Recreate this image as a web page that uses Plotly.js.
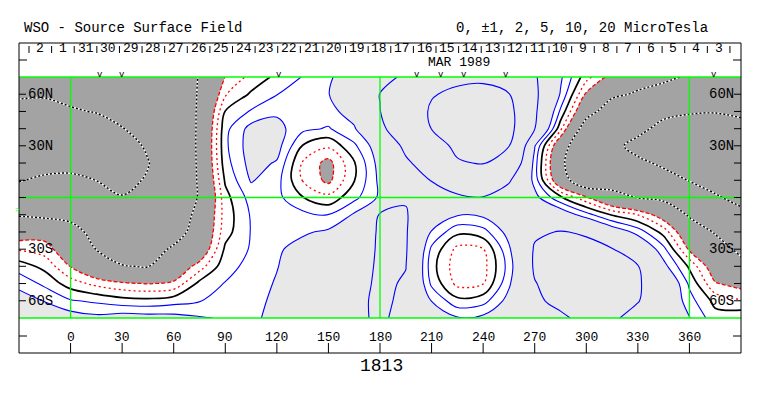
<!DOCTYPE html>
<html><head><meta charset="utf-8">
<script src="https://cdn.plot.ly/plotly-3.0.1.min.js"></script>
<style>html,body{margin:0;padding:0;background:#fff;}#chart{width:763px;height:396px;}</style>
</head><body><div id="chart"></div>
<script>
// ---- data grid: Carrington longitude columns, sine-latitude rows (top -> bottom) ----
const lonGrid = [-30,-15,0,15,30,45,60,75,90,105,120,135,150,165,180,195,210,225,240,255,270,285,300,315,330,345,360,375,390];
const sinLatTopDown = [1,0.857,0.714,0.571,0.429,0.286,0.143,0,-0.143,-0.286,-0.429,-0.571,-0.714,-0.857,-1];

const col_m30 = [-8.5,-9.6,-11,-12,-12.3,-11.8,-10.2,-7.8,-5.2,-2.9,-1.1,0.5,1.7,2.5,2.9];
const col_m15 = [-8.8,-9.6,-11.3,-12.8,-13,-11.5,-9.3,-7.5,-5.6,-2.6,-1.5,-0.3,0.75,1.95,2.7];
const col_0   = [-8.5,-9.5,-10.2,-12,-12.5,-11.5,-9,-7,-5.7,-4.1,-3,-2.05,-0.5,1.1,2.6];
const col_15  = [-8,-8.8,-9.9,-11,-12,-11.5,-10.05,-8,-6.6,-5.8,-5.05,-3.6,-1.3,0.8,2.3];
const col_30  = [-7.5,-8.2,-9,-10.1,-11,-11,-10.6,-9.9,-8,-6.8,-6,-4.9,-1.8,0.4,2.6];
const col_45  = [-7,-7.5,-8.2,-9,-9.7,-10.1,-9.8,-9,-8,-7,-6.2,-5.1,-2.05,0.3,2.5];
const col_60  = [-6.3,-6.7,-7,-7.5,-8,-8.3,-8.3,-8,-7.3,-6.2,-4.6,-3.2,-1.8,0.6,2.4];
const col_75  = [-4.9,-4.8,-4.7,-4.6,-4.5,-4.5,-4.6,-4.7,-4.0,-3.8,-3.3,-1.5,0.3,0.95,2.1];
const col_90  = [-1.95,-1.1,0.05,0.7,0.8,0.6,0.15,-0.35,-0.55,-0.4,0.2,0.65,1.05,1.4,1.9];
const col_105 = [-0.7,0.15,1.1,2.4,2.55,2.4,2.1,1.4,1.1,1.05,1.1,1.3,1.5,1.7,1.9];
const col_120 = [0.25,0.97,1.8,2.4,2.45,1.9,1.4,1.3,1.5,1.65,1.85,1.95,2.1,2.2,2.15];
const col_135 = [1.05,1.5,1.5,1.25,-0.05,-1.1,-1.05,0.03,1.3,1.85,2.4,2.7,2.9,3.0,3.0];
const col_150 = [1.8,1.95,1.6,0.9,-0.8,-2.4,-2.3,-0.7,0.95,2.2,2.8,3.2,3.5,3.7,3.8];
const col_165 = [2.9,3.4,2.6,1.85,0.8,-0.1,-0.05,0.7,2.15,2.8,3.3,3.8,4.2,4.5,4.6];
const col_180 = [4.0,5.05,4.95,4.4,2.8,2.5,2.3,2.2,5.2,5.4,5.4,5.4,5.4,5.4,5.3];
const col_195 = [5.5,7.35,7.7,6.9,5.6,4.6,3.8,4.8,5.2,5.2,5.2,5.05,4.8,4.6,4.4];
const col_210 = [8,9.8,10.4,10.05,8.5,6.3,5.1,3.3,2.8,1.92,0.77,0.38,0.78,1.96,2.8];
const col_225 = [9.3,10.6,11.3,11.4,10.7,9.7,6.6,4.6,2.1,0.25,-1.3,-1.6,-1.3,0.3,2.1];
const col_240 = [9.5,10.8,11.5,11.5,11.0,10.2,7.0,4.9,2.25,0.6,-1.05,-1.4,-1.05,0.6,2.3];
const col_255 = [8.8,10.1,11.2,11.3,10.1,8.2,5.3,3.6,3.0,2.45,1.8,1.4,1.8,2.45,3.0];
const col_270 = [5.3,5.5,5.4,5.05,2.1,1.5,1.6,2.4,3.5,4.7,5.2,5.3,4.9,4.4,4.0];
const col_285 = [2.2,1.9,0.8,-0.7,-3.5,-4.3,-3.5,0.2,3.0,5.1,5.6,5.9,6.0,5.9,4.4];
const col_300 = [-0.6,-2.2,-3.9,-6.5,-8,-8.5,-7.5,-1.8,1.4,4.8,5.5,6.0,6.2,6.2,6.0];
const col_315 = [-2.5,-4.5,-6.5,-8.5,-9.3,-9.0,-6.5,-3.9,-0.1,3.0,5.1,5.6,5.8,5.7,5.3];
const col_330 = [-4.0,-5.3,-7.5,-9.3,-10.8,-9.5,-7.8,-5.1,-1.02,1.6,3.6,5.1,5.2,5.1,4.3];
const col_345 = [-4.5,-6.0,-9.3,-10.8,-11.5,-10.4,-9.1,-5.6,-2.8,-0.4,1.3,2.4,3.8,3.6,3.2];
const col_360 = [-5.3,-7,-9.7,-11.5,-12,-11.5,-10.1,-7.8,-5.3,-3.5,-2.2,-0.2,0.8,1.4,2.05];
const col_375 = [-6,-7.5,-9.8,-12,-12.5,-12,-11,-9.7,-7.3,-5.2,-3.8,-3.0,-1.9,-0.3,0.4];
const col_390 = [-6.5,-8,-9.4,-11,-12,-12,-11.5,-10.8,-9.3,-7,-5.6,-4.2,-2.5,-0.9,0.75];

const columns = [col_m30,col_m15,col_0,col_15,col_30,col_45,col_60,col_75,col_90,col_105,col_120,col_135,col_150,col_165,col_180,col_195,col_210,col_225,col_240,col_255,col_270,col_285,col_300,col_315,col_330,col_345,col_360,col_375,col_390];

// contour levels (microTesla)
const lineLevels = [-10,-5,-2,-1,0,1,2,5,10];

// labels
const titleLeft = 'WSO - Source Surface Field';
const titleRight = '0, \u00b11, 2, 5, 10, 20 MicroTesla';
const monthLabel = 'MAR 1989';
const rotationLabel = '1813';
const dayLabels = ['2','1','31','30','29','28','27','26','25','24','23','22','21','20','19','18','17','16','15','14','13','12','11','10','9','8','7','6','5','4','3'];
const dayStartLon = -17.6, dayStepLon = 13.153;
const vMarkLon = [17.3,30,121.3,201.5,215.4,228.8,253.3,374.1];
const lonTicks = [0,30,60,90,120,150,180,210,240,270,300,330,360];
const latTickS = [0.857,0.429,-0.429,-0.857];
const latTickLabels = ['60N','30N','30S','60S'];
const minorLatS = [0.857,0.714,0.571,0.429,0.286,0.143,0,-0.143,-0.286,-0.429,-0.571,-0.714,-0.857];
const gridLon = [0,180,360];

// ---- build z (rows ascending in y) ----
const yAsc = sinLatTopDown.slice().reverse();
const zRows = yAsc.map((s, j) => columns.map(c => c[c.length - 1 - j]));

const FONT = 'Liberation Mono, DejaVu Sans Mono, monospace';
const L = 19, R = 741, T = 77, B = 318;
const px = x => (x - L) / (R - L);
const py = y => (B - y) / (B - T);

const traces = [];
traces.push({
  type: 'contour', x: lonGrid, y: yAsc, z: zRows, autocontour: false,
  contours: {coloring: 'fill', start: -2, end: 2, size: 4, showlines: false},
  colorscale: [[0,'#a3a3a3'],[0.25,'#a3a3a3'],[0.25,'#ffffff'],[0.75,'#ffffff'],[0.75,'#e8e8e8'],[1,'#e8e8e8']],
  showscale: false, line: {smoothing: 1, width: 0}, hoverinfo: 'skip'
});
function lineTrace(level, color, width, dash) {
  return {
    type: 'contour', x: lonGrid, y: yAsc, z: zRows, autocontour: false,
    contours: {coloring: 'none', start: level, end: level, size: 1},
    line: {color: color, width: width, dash: dash || 'solid', smoothing: 1},
    showscale: false, hoverinfo: 'skip'
  };
}
lineLevels.forEach(lv => {
  if (lv <= -5) {
    traces.push(lineTrace(lv, '#ffffff', 1.4));
    traces.push(lineTrace(lv, '#000000', 1.4, '2px,2px'));
  } else if (lv === -2) {
    traces.push(lineTrace(lv, '#ff0000', 1.3, '4px,2px'));
  } else if (lv === -1) {
    traces.push(lineTrace(lv, '#ff0000', 1.3, '2px,3px'));
  } else if (lv === 0) {
    traces.push(lineTrace(lv, '#000000', 1.7));
  } else {
    traces.push(lineTrace(lv, '#0000ff', 1.1));
  }
});

const shapes = [];
const green = '#00ff00';
shapes.push({type:'line', xref:'paper', yref:'paper', x0:0, x1:1, y0:1, y1:1, line:{color:green, width:1.3}});
shapes.push({type:'line', xref:'paper', yref:'paper', x0:0, x1:1, y0:0, y1:0, line:{color:green, width:1.3}});
shapes.push({type:'line', xref:'paper', yref:'y', x0:0, x1:1, y0:0, y1:0, line:{color:green, width:1.3}});
gridLon.forEach(l => shapes.push({type:'line', xref:'x', yref:'paper', x0:l, x1:l, y0:0, y1:1, line:{color:green, width:1.3}}));
shapes.push({type:'rect', xref:'paper', yref:'paper', x0:px(19), x1:px(741), y0:py(353), y1:py(43), line:{color:'#000', width:1}});
[60, 336].forEach(yy => {
  shapes.push({type:'line', xref:'paper', yref:'paper', x0:px(19), x1:px(27), y0:py(yy), y1:py(yy), line:{color:'#000', width:1}});
  shapes.push({type:'line', xref:'paper', yref:'paper', x0:px(733), x1:px(741), y0:py(yy), y1:py(yy), line:{color:'#000', width:1}});
});
minorLatS.forEach(s => {
  shapes.push({type:'line', xref:'paper', yref:'y', x0:px(19), x1:px(26), y0:s, y1:s, line:{color:'#000', width:1}});
  shapes.push({type:'line', xref:'paper', yref:'y', x0:px(734), x1:px(741), y0:s, y1:s, line:{color:'#000', width:1}});
});
lonTicks.forEach(l => shapes.push({type:'line', xref:'x', yref:'paper', x0:l, x1:l, y0:py(353), y1:py(343), line:{color:'#000', width:1}}));
for (let n = 0; n <= dayLabels.length; n++) {
  const l = dayStartLon + (n - 0.5) * dayStepLon;
  shapes.push({type:'line', xref:'x', yref:'paper', x0:l, x1:l, y0:py(53), y1:py(46), line:{color:'#000', width:1}});
}

const ann = [];
const txt = (o) => Object.assign({showarrow:false, borderpad:0, font:{family:FONT, size:14, color:'#000'}}, o);
ann.push(txt({xref:'paper', yref:'paper', x:px(23), y:py(28), xanchor:'left', yanchor:'middle', text:titleLeft}));
ann.push(txt({xref:'paper', yref:'paper', x:px(455), y:py(28), xanchor:'left', yanchor:'middle', text:titleRight}));
ann.push(txt({xref:'paper', yref:'paper', x:px(459), y:py(62.5), xanchor:'center', yanchor:'middle', text:monthLabel, font:{family:FONT, size:13, color:'#000'}}));
ann.push(txt({xref:'paper', yref:'paper', x:px(381), y:py(366), xanchor:'center', yanchor:'middle', text:rotationLabel, font:{family:FONT, size:18, color:'#000'}}));
dayLabels.forEach((d, n) => ann.push(txt({xref:'x', yref:'paper', x:dayStartLon + n * dayStepLon, y:py(48.5), xanchor:'center', yanchor:'middle', text:d, font:{family:FONT, size:13, color:'#000'}})));
vMarkLon.forEach(l => ann.push(txt({xref:'x', yref:'paper', x:l, y:py(75), xanchor:'center', yanchor:'middle', text:'v', font:{family:FONT, size:9, color:'#000'}})));
lonTicks.forEach(l => ann.push(txt({xref:'x', yref:'paper', x:l, y:py(337), xanchor:'center', yanchor:'middle', text:String(l), font:{family:FONT, size:13, color:'#000'}})));
latTickS.forEach((s, i) => {
  ann.push(txt({xref:'paper', yref:'y', x:px(27), y:s, xanchor:'left', yanchor:'middle', text:latTickLabels[i]}));
  ann.push(txt({xref:'paper', yref:'y', x:px(735), y:s, xanchor:'right', yanchor:'middle', text:latTickLabels[i]}));
});
ann.push(txt({xref:'paper', yref:'paper', x:px(17), y:py(209), xanchor:'center', yanchor:'middle', text:'>', font:{family:FONT, size:8, color:green}}));

const layout = {
  width: 763, height: 396,
  margin: {l: 19, r: 22, t: 77, b: 78, pad: 0},
  paper_bgcolor: '#ffffff', plot_bgcolor: '#ffffff',
  showlegend: false,
  xaxis: {range: [-30, 390], showgrid: false, zeroline: false, showticklabels: false, ticks: '', showline: false, fixedrange: true},
  yaxis: {range: [-1, 1], showgrid: false, zeroline: false, showticklabels: false, ticks: '', showline: false, fixedrange: true},
  shapes: shapes, annotations: ann
};
Plotly.newPlot('chart', traces, layout, {staticPlot: true, displayModeBar: false});
</script></body></html>
